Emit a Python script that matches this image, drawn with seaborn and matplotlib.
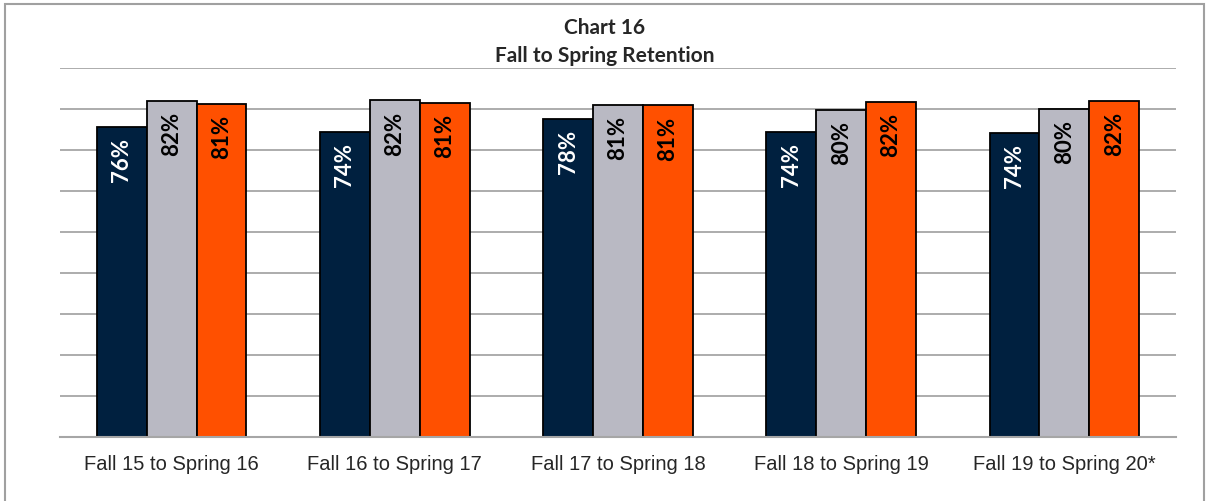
import matplotlib
matplotlib.use("Agg")
import matplotlib.pyplot as plt
import seaborn as sns
import pandas as pd
from matplotlib.patches import Rectangle

periods = ["Fall 15 to Spring 16", "Fall 16 to Spring 17", "Fall 17 to Spring 18",
           "Fall 18 to Spring 19", "Fall 19 to Spring 20*"]
series = ["Series 1", "Series 2", "Series 3"]
series1 = [75.7, 74.4, 77.6, 74.4, 74.2]
series2 = [82.0, 82.1, 81.0, 79.8, 80.0]
series3 = [81.3, 81.4, 80.9, 81.8, 82.0]
colors = ["#00203F", "#B9B9C3", "#FF5000"]

rows = []
for name, vals in zip(series, [series1, series2, series3]):
    for p, v in zip(periods, vals):
        rows.append({"period": p, "series": name, "value": v})
df = pd.DataFrame(rows)

sns.set_style("white")
fig = plt.figure(figsize=(12.09, 5.01), dpi=100)
ax = fig.add_axes([60 / 1209, 1 - 437 / 501, 1116 / 1209, (437 - 68) / 501])

sns.barplot(data=df, x="period", y="value", hue="series", order=periods,
            hue_order=series, palette=colors, width=0.67, edgecolor="black",
            linewidth=1.3, saturation=1, legend=False, ax=ax)

ax.set_ylim(0, 90)
ax.set_xlim(-0.5, len(periods) - 0.5)
ax.set_yticks(range(0, 91, 10))
ax.yaxis.grid(True, color="#A6A6A6", linewidth=1.3)
ax.set_axisbelow(True)
ax.tick_params(axis="y", left=False, labelleft=False)
ax.set_xticks([i - 0.5 for i in range(len(periods) + 1)], minor=True)
ax.tick_params(axis="x", which="major", length=0, pad=13, labelsize=14.5)
ax.tick_params(axis="x", which="minor", length=6, width=1.2, color="#A6A6A6", direction="out")
for lab in ax.get_xticklabels():
    lab.set_fontfamily("Liberation Sans")
ax.set_xlabel("")
ax.set_ylabel("")
for s in ["top", "right", "left"]:
    ax.spines[s].set_visible(False)
ax.spines["bottom"].set_color("#A6A6A6")
ax.spines["bottom"].set_linewidth(1.5)

for i, cont in enumerate(ax.containers):
    txt_color = "white" if i == 0 else "black"
    for bar in cont:
        h = bar.get_height()
        ax.annotate(f"{h:.0f}%", (bar.get_x() + bar.get_width() / 2, h),
                    xytext=(0, -8), textcoords="offset points",
                    ha="center", va="top", rotation=90, fontsize=16,
                    fontweight="bold", color=txt_color, family="Lato")

fig.text(0.5, 1 - 28 / 501, "Chart 16", ha="center", va="center",
         fontsize=15, fontweight="bold", family="Lato")
fig.text(0.5, 1 - 56 / 501, "Fall to Spring Retention", ha="center", va="center",
         fontsize=15, fontweight="bold", family="Lato")

fig.patches.append(Rectangle((5 / 1209, -0.02), 1199 / 1209, 1.02 - 4 / 501,
                             transform=fig.transFigure, fill=False,
                             edgecolor="#A0A0A0", linewidth=1.5))

fig.savefig("out.png", dpi=100)
